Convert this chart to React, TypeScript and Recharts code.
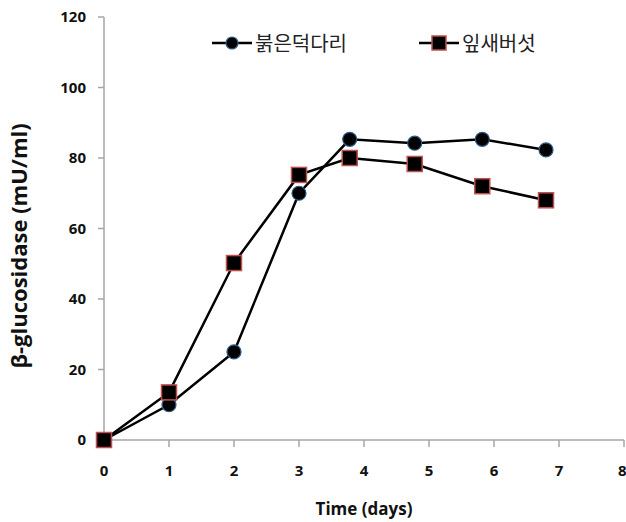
import React from "react";
import { LineChart, Line, XAxis, YAxis } from "recharts";

const daysA = [0, 1, 2, 3, 3.78, 4.78, 5.82, 6.8];
const valuesA = [0, 10, 25, 70, 85.3, 84.2, 85.3, 82.3];
const daysB = [0, 1, 2, 3, 3.78, 4.78, 5.82, 6.8];
const valuesB = [0, 13.5, 50.2, 75.2, 80, 78.3, 72, 68];
const xTicks = [0, 1, 2, 3, 4, 5, 6, 7, 8];
const yTicks = [0, 20, 40, 60, 80, 100, 120];
const nameA = "붉은덕다리";
const nameB = "잎새버섯";

const dataA = daysA.map((d, i) => ({ day: d, a: valuesA[i] }));
const dataB = daysB.map((d, i) => ({ day: d, b: valuesB[i] }));

const AXIS = "#a6a6a6";
const TICK_FONT = { fontSize: 15, fontWeight: 700, fill: "#111", fontFamily: "Open Sans, sans-serif" };

function CircleDot(props: any) {
  const { cx, cy, index } = props;
  if (cx == null || cy == null) return null;
  return <circle key={`c${index}`} cx={cx} cy={cy} r={7} fill="#000" stroke="#2e5a8a" strokeWidth={1.2} />;
}

function SquareDot(props: any) {
  const { cx, cy, index } = props;
  if (cx == null || cy == null) return null;
  return (
    <rect key={`s${index}`} x={cx - 7.5} y={cy - 7.5} width={15} height={15} fill="#000" stroke="#c0504d" strokeWidth={1.5} />
  );
}

// legend drawn as an overlay so it doesn't push the plot down
function LegendBox() {
  const item = (label: string, square: boolean, left: number) => (
    <div style={{ position: "absolute", left, top: 0, display: "flex", alignItems: "center" }}>
      <svg width={44} height={20}>
        <line x1={2} y1={10} x2={42} y2={10} stroke="#000" strokeWidth={2.5} />
        {square ? (
          <rect x={15} y={3} width={14} height={14} fill="#000" stroke="#c0504d" strokeWidth={1.5} />
        ) : (
          <circle cx={22} cy={10} r={6} fill="#000" stroke="#2e5a8a" strokeWidth={1.2} />
        )}
      </svg>
      <span style={{ fontFamily: "Noto Sans CJK KR, sans-serif", fontSize: 20, color: "#222", marginLeft: 1 }}>{label}</span>
    </div>
  );
  return (
    <div style={{ position: "absolute", left: 0, top: 28, width: 626, height: 28 }}>
      {item(nameA, false, 210)}
      {item(nameB, true, 417)}
    </div>
  );
}

export default function App() {
  return (
    <div style={{ position: "absolute", left: 0, top: 0, width: 626, height: 522, background: "#fff" }}>
      <LineChart width={626} height={522} margin={{ top: 17, right: 2, bottom: 0, left: 40 }}>
        <XAxis
          type="number"
          dataKey="day"
          domain={[0, 8]}
          ticks={xTicks}
          allowDuplicatedCategory={false}
          stroke={AXIS}
          strokeWidth={1.5}
          tickSize={7}
          tickLine={{ stroke: AXIS }}
          tick={TICK_FONT}
          tickMargin={18}
          height={82}
          label={{
            value: "Time (days)",
            position: "insideBottom",
            offset: 7,
            style: { fontSize: 17, fontWeight: 700, fill: "#111", fontFamily: "Open Sans, sans-serif" },
          }}
        />
        <YAxis
          type="number"
          domain={[0, 120]}
          ticks={yTicks}
          stroke={AXIS}
          strokeWidth={1.5}
          tickSize={6}
          tick={TICK_FONT}
          tickMargin={12}
          width={64}
          label={{
            value: "β-glucosidase  (mU/ml)",
            angle: -90,
            position: "insideLeft",
            offset: 0,
            dx: -21,
            dy: 140,
            style: { fontSize: 22, fontWeight: 700, fill: "#111", fontFamily: "Open Sans, sans-serif" },
          }}
        />
        <Line
          data={dataA}
          dataKey="a"
          name={nameA}
          stroke="#000"
          strokeWidth={2.5}
          dot={<CircleDot />}
          isAnimationActive={false}
        />
        <Line
          data={dataB}
          dataKey="b"
          name={nameB}
          stroke="#000"
          strokeWidth={2.5}
          dot={<SquareDot />}
          isAnimationActive={false}
        />
      </LineChart>
      <LegendBox />
    </div>
  );
}
